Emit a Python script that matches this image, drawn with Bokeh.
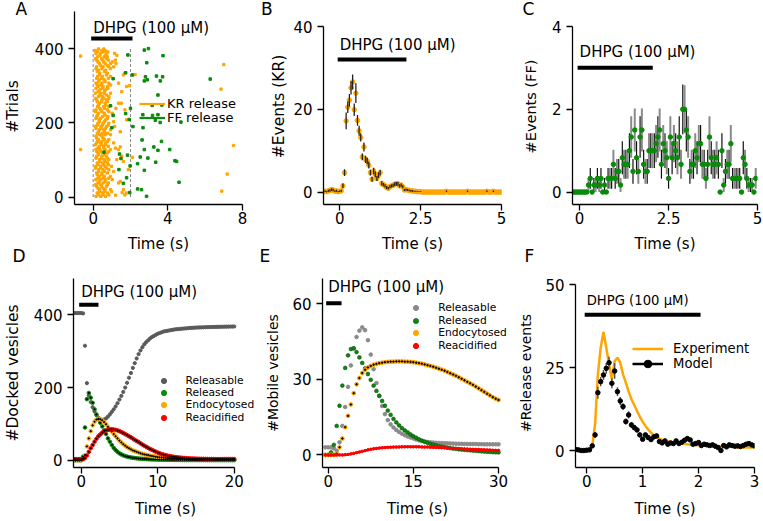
import numpy as np
from bokeh.plotting import figure
from bokeh.layouts import column, row
from bokeh.models import Range1d, FixedTicker, Label, Legend, LegendItem, Title
from bokeh.embed import file_html
from bokeh.resources import INLINE

# ============================ DATA ============================
stim_on = 0.0
stim_off = 2.0
stim_text = "DHPG (100 μM)"
n_trials = 400

# --- A: raster of release events (trial, event times in s)
kr_rows = [
    (399, [0.29, 0.57]), (395, [0.12, 0.47, 0.64]), (391, [0.22, 0.53, 0.79]),
    (387, [0.15, 0.40, 0.71, 1.15]), (382, [0.36, 0.67, 1.27]), (378, [0.24, 0.59, 0.76]),
    (373, [0.12, 0.45, 0.71]), (369, [0.19, 0.50, 0.81, 1.19]), (364, [0.26, 0.57, 1.02]),
    (360, [0.33, 0.64, 0.93, 1.22]), (355, [0.40, 0.76]), (351, [0.19, 0.53, 0.84, 1.10]),
    (346, [0.15, 0.47, 0.93]), (342, [0.29, 0.67]), (338, [0.22, 0.60]),
    (334, [0.36, 0.76, 1.70]), (329, [0.33, 0.71, 1.62]), (325, [0.24, 0.50, 0.93]),
    (320, [0.19, 0.45, 0.81]), (316, [0.33, 0.59]), (311, [0.29, 0.64]),
    (307, [0.15, 0.47, 0.84, 1.36]), (302, [0.22, 0.41, 0.93]), (298, [0.26, 0.53, 0.76, 1.79]),
    (293, [0.15, 0.50, 0.79]), (289, [0.36, 0.67]), (284, [0.26, 0.60, 1.53]),
    (280, [0.12, 0.41, 0.59, 0.93]), (275, [0.36, 0.71]), (271, [0.29, 0.50, 0.84]),
    (266, [0.12, 0.57, 0.84]), (262, [0.19, 0.47, 0.71]), (257, [0.22, 0.45, 0.76]),
    (253, [0.33, 0.64, 1.36, 1.50]), (248, [0.29, 0.67]), (244, [0.24, 0.57, 0.84]),
    (239, [0.36, 0.60, 1.22]), (235, [0.15, 0.41, 0.76, 1.70]), (230, [0.12, 0.47, 0.84]),
    (226, [0.29, 0.59, 1.02]), (221, [0.24, 0.64]), (217, [0.19, 0.50, 0.79]),
    (212, [0.15, 0.41, 0.76]), (208, [0.33, 0.67, 1.79]), (203, [0.33, 0.60, 1.10]),
    (199, [0.26, 0.53, 0.84]), (194, [0.22, 0.50, 0.81]), (190, [0.12, 0.41, 0.71, 1.15]),
    (185, [0.15, 0.45, 0.67]), (181, [0.33, 0.59, 0.93]), (176, [0.29, 0.60, 1.45]),
    (172, [0.22, 0.50, 0.76]), (168, [0.36, 0.64, 0.93]), (164, [0.15, 0.47]),
    (159, [0.19, 0.53]), (155, [0.29, 0.60, 0.84]), (150, [0.24, 0.47, 0.76]),
    (146, [0.19, 0.41, 0.67, 1.10]), (141, [0.12, 0.45, 0.67]), (137, [0.33, 0.57, 0.81]),
    (132, [0.26, 0.57, 1.19]), (128, [0.15, 0.36, 0.64, 0.93, 1.36]), (123, [0.19, 0.41, 0.84]),
    (119, [0.26, 0.50, 0.76]), (114, [0.29, 0.60]), (110, [0.19, 0.47, 0.71, 1.53]),
    (105, [0.15, 0.45, 0.76]), (101, [0.33, 0.59, 0.84, 1.27]), (96, [0.36, 0.64, 1.62]),
    (92, [0.22, 0.50, 0.76]), (87, [0.26, 0.57, 0.81]), (83, [0.15, 0.41, 0.64, 0.98]),
    (78, [0.12, 0.40, 0.71]), (74, [0.29, 0.53, 0.84, 1.88]), (69, [0.29, 0.60, 1.10]),
    (65, [0.19, 0.47, 0.76]), (60, [0.22, 0.47]), (56, [0.33, 0.60, 0.93]),
    (51, [0.26, 0.53, 0.84]), (47, [0.15, 0.40, 0.67, 1.02]), (42, [0.33, 0.64, 1.45]),
    (38, [0.26, 0.53, 0.81, 1.36]), (33, [0.12, 0.41, 0.76]), (29, [0.19, 0.45, 0.71]),
    (24, [0.26, 0.53]), (20, [0.33, 0.64, 0.93, 1.62]), (15, [0.36, 0.60, 0.98]),
    (11, [0.22, 0.50, 0.76, 1.79]), (6, [0.29, 0.53, 0.84, 1.70]), (2, [0.15, 0.41, 0.67]),
]
kr_extra_time = [-0.67, -0.67, 7.00, 6.85, 7.52, 7.18, 6.89, 1.45, 1.55, 2.10, 1.95, 2.25, 1.20]
kr_extra_trial = [380, 128, 357, 291, 139, 62, 16, 135, 12, 107, 300, 330, 5]
ff_time = [2.96, 2.74, 1.86, 2.87, 3.74, 1.07, 1.74, 2.10, 2.80, 2.90, 2.74, 3.39, 3.60, 3.72,
           3.47, 6.27, 3.16, 3.68, 2.00, 2.66, 1.74, 1.93, 2.13, 2.67, 1.07, 3.33, 3.59, 4.70,
           3.47, 3.18, 2.62, 3.66, 3.25, 3.47, 4.10, 2.74, 2.52, 2.93, 4.38, 4.47, 3.35, 2.38,
           1.84, 1.41, 1.49, 1.98, 1.38, 2.74, 1.79, 1.62, 1.96, 2.38, 2.59, 2.86, 4.60, 0.58,
           1.00, 0.93]
ff_trial = [400, 396, 383, 362, 381, 319, 335, 329, 324, 316, 313, 326, 313, 324, 275, 318, 247,
            248, 239, 222, 225, 209, 190, 187, 220, 207, 201, 202, 222, 220, 154, 150, 135, 126,
            128, 128, 108, 105, 98, 96, 94, 90, 113, 116, 104, 84, 74, 72, 52, 37, 12, 22, 20, 2,
            40, 121, 187, 246]

# --- B: KR events per 50 ms bin (from -0.5 s)
kr_bin_start, kr_bin_width = -0.5, 0.05
kr_mean = [0.1, 0.2, 0.1, 0.3, 0.4, 0.6, 0.5, 0.2, 0.3, 0.1, 0.2, 0.3,
           1.5, 4.7, 17.2, 20.5, 22.2, 25.2, 26.6, 19.9, 23.9, 17.3,
           14.8, 13.2, 8.5, 10.9, 7.9, 7.5, 6.5, 4.7, 3.1, 5.1,
           4.3, 3.3, 4.1, 4.7, 2.1, 1.8, 1.5, 1.1, 0.9, 1.3,
           1.5, 1.6, 1.9, 2.0, 2.0, 1.5, 1.7, 1.3, 0.5, 0.6,
           0.5, 0.4, 0.3, 0.3, 0.2, 0.2, 0.1, 0.1, 0.1,
           0, 0, 0, 0, 0, 0, 0, 0, 0, 0,
           0, 0, 0, 0, 0, 0.2, 0, 0, 0, 0,
           0, 0, 0, 0, 0, 0, 0, 0, 0.2, 0,
           0, 0, 0, 0, 0, 0, 0, 0, 0, 0,
           0.2, 0, 0, 0, 0.2, 0, 0, 0, 0, 0]
kr_err = [0.15, 0.2, 0.15, 0.25, 0.3, 0.35, 0.3, 0.2, 0.25, 0.15, 0.2, 0.25,
          0.6, 0.8, 2.0, 1.4, 1.5, 1.6, 1.8, 1.5, 2.4, 1.3,
          1.2, 1.0, 0.8, 1.1, 0.9, 0.8, 0.8, 0.7, 0.6, 0.8,
          0.7, 0.6, 0.7, 0.7, 0.5, 0.4, 0.4, 0.35, 0.3, 0.35,
          0.4, 0.4, 0.45, 0.45, 0.45, 0.4, 0.4, 0.35, 0.25, 0.25,
          0.25, 0.2, 0.2, 0.2, 0.15, 0.15, 0.1, 0.1, 0.1,
          0, 0, 0, 0, 0, 0, 0, 0, 0, 0,
          0, 0, 0, 0, 0, 0.2, 0, 0, 0, 0,
          0, 0, 0, 0, 0, 0, 0, 0, 0.2, 0,
          0, 0, 0, 0, 0, 0, 0, 0, 0, 0,
          0.2, 0, 0, 0, 0.2, 0, 0, 0, 0, 0]

# --- C: FF events per 50 ms bin (from -0.2 s)
ff_bin_start, ff_bin_width = -0.2, 0.05
ff_mean = [0, 0, 0, 0, 0, 0, 0, 0, 0,
           0.17, 0.33, 0, 0.17, 0.17, 0.33, 0.17, 0.33, 0, 0.17,
           0, 0.33, 0.33, 0.33, 0.67, 0.33, 0.5, 0.5, 0.17, 0.83,
           0.67, 0.67, 0.67, 1.0, 1.33, 0.5, 1.5, 0.83, 0.5, 1.33,
           1.5, 0.67, 0.5, 0.5, 1.0, 1.0, 1.0, 1.0, 1.17, 1.33,
           1.5, 0.67, 1.17, 1.0, 0.83, 0.33,
           1.33, 0.83, 1.17, 1.0, 0.83, 1.33, 0.67, 2.0, 2.0, 1.5,
           1.33, 0.5, 0.67, 0.67, 1.0, 0.83, 1.17, 1.17, 0.67, 0.67,
           0.33, 0.67, 1.33, 0.83, 0.67, 0.67, 0.83, 0.67, 0, 1.0,
           0.17, 0.5, 0.67, 0.67, 1.17, 0.33, 0.33, 0.33, 0.33, 0.33,
           0, 0.83, 0.67, 0.33, 0.17, 0.17, 0.17, 0, 0.33]
ff_err = [0, 0, 0, 0, 0, 0, 0, 0, 0,
          0.17, 0.25, 0, 0.17, 0.17, 0.25, 0.17, 0.25, 0, 0.17,
          0, 0.25, 0.25, 0.25, 0.35, 0.25, 0.3, 0.3, 0.17, 0.4,
          0.35, 0.35, 0.35, 0.42, 0.5, 0.3, 0.52, 0.4, 0.3, 0.5,
          0.52, 0.35, 0.3, 0.3, 0.42, 0.42, 0.42, 0.42, 0.45, 0.5,
          0.52, 0.35, 0.45, 0.42, 0.4, 0.25,
          0.5, 0.4, 0.45, 0.42, 0.4, 0.5, 0.35, 0.6, 0.58, 0.52,
          0.5, 0.3, 0.35, 0.35, 0.42, 0.4, 0.45, 0.45, 0.35, 0.35,
          0.25, 0.35, 0.5, 0.4, 0.35, 0.35, 0.4, 0.35, 0, 0.42,
          0.17, 0.3, 0.35, 0.35, 0.45, 0.25, 0.25, 0.25, 0.25, 0.25,
          0, 0.4, 0.35, 0.25, 0.17, 0.17, 0.17, 0, 0.25]

# --- D: docked vesicle pools, sampled every 0.25 s from -1 s
dock_start, dock_step = -1.0, 0.25
dock_releasable = [405, 405, 405, 405, 405, 404,
                   315, 212, 178, 160, 146, 134, 124, 117, 113, 111,
                   112, 115, 120, 126, 133, 140, 148, 157, 167, 177,
                   188, 200, 213, 227, 240, 254, 267, 280, 292, 302,
                   311, 319, 325, 330, 335, 339, 342, 345, 348, 350,
                   352, 354, 355, 356, 357, 358, 359, 360, 360.5, 361,
                   361.5, 362, 362.5, 363, 363.5, 364, 364.3, 364.6, 365, 365.2,
                   365.4, 365.6, 365.8, 366, 366.2, 366.4, 366.5, 366.6, 366.8, 367,
                   367, 367.2, 367.3, 367.4, 367.5, 367.6, 367.7, 367.8, 368]
dock_released = [0, 0, 0, 0, 0, 10,
                 90, 168, 185, 172, 158, 140, 126, 113, 103, 93,
                 82, 72, 60, 51, 42, 34, 28, 23, 19, 16,
                 13.5, 11.5, 10, 8.7, 7.6, 6.7, 6, 5.3, 4.7, 4.2,
                 3.8, 3.4, 3.1, 2.8, 2.5, 2.3, 2.1, 1.9, 1.7, 1.6,
                 1.5, 1.4, 1.3, 1.2, 1.1, 1.0, 0.95, 0.9, 0.85, 0.8,
                 0.75, 0.7, 0.65, 0.6, 0.6, 0.55, 0.5, 0.5, 0.45, 0.45,
                 0.4, 0.4, 0.4, 0.35, 0.35, 0.35, 0.3, 0.3, 0.3, 0.3,
                 0.3, 0.3, 0.3, 0.3, 0.3, 0.3, 0.3, 0.3, 0.3]
dock_endocytosed = [0, 0, 0, 0, 0, 3,
                    14, 38, 60, 80, 96, 106, 112, 114, 113, 110,
                    105, 99, 92, 85, 79, 72, 66, 60, 54, 49,
                    44, 40, 36, 33, 30, 27, 25, 23, 21, 19,
                    17.5, 16, 15, 14, 12.5, 11.5, 10.5, 9.5, 8.5, 8,
                    7.3, 6.8, 6.3, 5.9, 5.5, 5.2, 4.9, 4.6, 4.4, 4.2,
                    4.0, 3.8, 3.7, 3.6, 3.5, 3.4, 3.3, 3.3, 3.2, 3.2,
                    3.1, 3.1, 3.1, 3.0, 3.0, 3.0, 3.0, 3.0, 3.0, 3.0,
                    3.0, 3.0, 3.0, 3.0, 3.0, 3.0, 3.0, 3.0, 3.0]
dock_reacidified = [3, 3, 3, 3, 3, 3,
                    6, 13, 23, 33, 42, 51, 59, 66, 71, 76,
                    79, 82, 83.5, 84.5, 85, 84.5, 83.5, 82, 80, 77.5,
                    75, 72, 69, 66, 63, 59.5, 56, 53, 50, 46.5,
                    43, 40, 37, 34, 31, 28.5, 26, 23.5, 21, 19,
                    17, 15.5, 14, 12.8, 11.6, 10.6, 9.7, 8.9, 8.2, 7.6,
                    7.0, 6.5, 6.0, 5.6, 5.2, 4.9, 4.6, 4.4, 4.2, 4.0,
                    3.8, 3.7, 3.6, 3.5, 3.4, 3.3, 3.2, 3.2, 3.1, 3.1,
                    3.0, 3.0, 3.0, 3.0, 3.0, 3.0, 3.0, 3.0, 3.0]

# --- E: mobile vesicle pools, sampled every 0.5 s from -0.5 s
mob_start, mob_step = -0.5, 0.5
mob_releasable = [3.0, 3.0, 3.0, 2.6, 1.6, 5.0, 11.5, 19.0, 27.0, 35.5,
                  42.3, 46.8, 49.3, 50.6, 49.5, 45.5, 39.8, 34.0, 28.5, 23.5,
                  19.4, 16.2, 13.8, 12.1, 10.9, 9.9, 9.1, 8.4, 7.8, 7.3,
                  6.9, 6.5, 6.1, 5.8, 5.5, 5.3, 5.1, 5.0, 4.9, 4.8,
                  4.75, 4.7, 4.65, 4.6, 4.55, 4.5, 4.45, 4.4, 4.4, 4.35,
                  4.35, 4.3, 4.3, 4.3, 4.25, 4.25, 4.2, 4.2, 4.2, 4.2,
                  4.2, 4.2]
mob_released = [0, 0, 1.0, 4.0, 11.5, 19.5, 27.5, 34.5, 39.5, 42.0,
                42.3, 40.8, 38.7, 36.5, 34.3, 32.1, 29.8, 27.5, 25.4, 23.4,
                21.4, 19.5, 17.6, 15.9, 14.3, 12.9, 11.7, 10.6, 9.7, 8.9,
                8.1, 7.4, 6.8, 6.2, 5.7, 5.2, 4.8, 4.4, 4.1, 3.8,
                3.5, 3.3, 3.1, 2.9, 2.7, 2.5, 2.4, 2.2, 2.1, 2.0,
                1.9, 1.8, 1.7, 1.6, 1.5, 1.4, 1.3, 1.25, 1.2, 1.1,
                1.05, 1.0]
mob_endocytosed = [0, 0, 0, 0, 0.5, 3.0, 6.5, 11.0, 15.5, 20.0,
                   24.5, 28.0, 30.5, 32.5, 33.8, 34.7, 35.3, 35.8, 36.1, 36.4,
                   36.6, 36.8, 36.9, 37.0, 37.0, 37.1, 37.1, 37.1, 37.0, 37.0,
                   36.9, 36.8, 36.6, 36.4, 36.2, 35.9, 35.6, 35.3, 35.0, 34.6,
                   34.2, 33.8, 33.4, 32.9, 32.4, 31.9, 31.4, 30.8, 30.2, 29.6,
                   29.0, 28.4, 27.8, 27.1, 26.4, 25.7, 25.0, 24.3, 23.6, 22.9,
                   22.3, 21.8]
mob_reacidified = [0, 0, 0, 0, 0, 0, 0, 0.1, 0.2, 0.4,
                   0.6, 0.9, 1.15, 1.4, 1.7, 2.0, 2.2, 2.4, 2.55, 2.7,
                   2.8, 2.9, 3.0, 3.05, 3.1, 3.1, 3.15, 3.2, 3.2, 3.2,
                   3.2, 3.2, 3.2, 3.2, 3.15, 3.1, 3.1, 3.05, 3.0, 2.95,
                   2.9, 2.85, 2.8, 2.7, 2.65, 2.6, 2.55, 2.5, 2.4, 2.35,
                   2.3, 2.25, 2.2, 2.15, 2.1, 2.05, 2.0, 1.95, 1.9, 1.85,
                   1.8, 1.8]

# --- F: experiment vs model release events
exp_start, exp_step = 0.0, 0.05
exp_events = [0.0, 0.2, 1.5, 8.0, 23.0, 31.0, 35.7, 31.0, 26.0, 21.5,
              27.0, 28.0, 26.5, 23.0, 20.5, 17.8, 15.5, 13.8, 12.0, 10.3,
              8.8, 7.5, 6.4, 5.5, 4.7, 4.1, 3.7, 3.3, 3.0, 2.8,
              2.6, 2.5, 2.4, 2.3, 2.2, 2.1, 2.0, 1.9, 1.8, 1.75,
              1.7, 1.6, 1.6, 1.5, 1.5, 1.4, 1.4, 1.3, 1.3, 1.3,
              1.2, 1.2, 1.2, 1.1, 1.1, 1.1, 1.0, 1.0, 1.0, 1.0,
              1.0]
model_start, model_step = -0.2, 0.05
model_events = [0.4, 0.3, 0.1, 0.1, 0.2, 0.3,
                1.5, 4.8, 17.5, 20.8, 22.8, 24.8, 26.5, 20.3, 24.0, 17.8,
                15.0, 13.3, 8.8, 10.8, 7.8, 7.0, 6.3, 4.8, 3.5, 4.8,
                4.0, 3.4, 4.2, 4.5, 2.8, 2.4, 3.0, 2.0, 2.4, 2.2,
                3.0, 2.2, 2.6, 3.2, 3.7, 3.3, 2.0, 2.2, 2.5, 1.6,
                2.0, 1.8, 1.6, 1.8, 1.4, 1.0, 0.1, 1.6, 1.2, 1.8,
                1.6, 1.4, 1.5, 1.3, 1.6, 2.0, 2.2, 1.8, 1.5]
model_err = [0.3, 0.3, 0.2, 0.2, 0.2, 0.3,
             0.6, 0.9, 1.8, 1.4, 1.5, 1.6, 1.8, 1.5, 2.3, 1.3,
             1.2, 1.0, 0.9, 1.1, 0.9, 0.8, 0.8, 0.7, 0.6, 0.8,
             0.7, 0.6, 0.7, 0.7, 0.5, 0.5, 0.6, 0.5, 0.5, 0.5,
             0.6, 0.5, 0.5, 0.6, 0.6, 0.6, 0.5, 0.5, 0.5, 0.4,
             0.5, 0.4, 0.4, 0.4, 0.4, 0.3, 0.1, 0.4, 0.3, 0.4,
             0.4, 0.3, 0.4, 0.3, 0.4, 0.4, 0.5, 0.4, 0.4]

# --- ticks
A_xt, A_xl, A_yt, A_yl = [0, 4, 8], ["0", "4", "8"], [0, 200, 400], ["0", "200", "400"]
B_xt, B_xl, B_yt, B_yl = [0, 2.5, 5], ["0", "2.5", "5"], [0, 20, 40], ["0", "20", "40"]
C_xt, C_xl, C_yt, C_yl = [0, 2.5, 5], ["0", "2.5", "5"], [0, 2, 4], ["0", "2", "4"]
D_xt, D_xl, D_yt, D_yl = [0, 10, 20], ["0", "10", "20"], [0, 200, 400], ["0", "200", "400"]
E_xt, E_xl, E_yt, E_yl = [0, 15, 30], ["0", "15", "30"], [0, 30, 60], ["0", "30", "60"]
F_xt, F_xl, F_yt, F_yl = [0, 1, 2, 3], ["0", "1", "2", "3"], [0, 25, 50], ["0", "25", "50"]

# ============================ STYLE / LAYOUT ============================
FONT = "DejaVu Sans"
ORANGE = "#FFA500"
GREEN = "#0A8A0A"
RED = "#FF0000"

# pixel geometry: figure box (x0, y0, w, h), frame (l, t, r, b), axis extents (lo, hi, px of hi)
GEOM = {
    "A": dict(box=(0, 0, 258, 268), frame=(68, 8, 242, 204), xax=(-1, 8, 242), yax=(-20, 500, 11)),
    "B": dict(box=(258, 0, 257, 268), frame=(323, 8, 501, 204), xax=(-0.5, 5, 501), yax=(-3, 40, 26)),
    "C": dict(box=(515, 0, 248, 268), frame=(572, 8, 757, 204), xax=(-0.2, 5, 757), yax=(-0.3, 4, 26)),
    "D": dict(box=(0, 268, 258, 253), frame=(67, 278, 257, 467), xax=(-1, 20, 233), yax=(-20, 500, 278)),
    "E": dict(box=(258, 268, 257, 253), frame=(322, 278, 512, 467), xax=(-1, 30, 498), yax=(-5, 70, 278)),
    "F": dict(box=(515, 268, 248, 253), frame=(572, 278, 754, 467), xax=(-0.2, 3, 754), yax=(-5, 50, 284)),
}


def scales(key):
    g = GEOM[key]
    fl, ft, fr, fb = g["frame"]
    xlo, xhi, xpx = g["xax"]
    ylo, yhi, ypx = g["yax"]
    kx = (xpx - fl) / (xhi - xlo)
    ky = (fb - ypx) / (yhi - ylo)
    return fl, ft, fr, fb, xlo, ylo, kx, ky


def pd(key, px, py):
    fl, ft, fr, fb, xlo, ylo, kx, ky = scales(key)
    return xlo + (px - fl) / kx, ylo + (fb - py) / ky


def make_fig(key, xt, xl, yt, yl, xlab, ylab, ylab_size, ylab_standoff, xlab_standoff):
    g = GEOM[key]
    bx, by, bw, bh = g["box"]
    fl, ft, fr, fb, xlo, ylo, kx, ky = scales(key)
    xend = xlo + (fr - fl) / kx
    yend = ylo + (fb - ft) / ky
    p = figure(width=bw, height=bh,
               x_range=Range1d(xlo, xend + 1e-6 * (xend - xlo)),
               y_range=Range1d(ylo, yend + 1e-6 * (yend - ylo)),
               output_backend="svg", toolbar_location=None,
               min_border_left=fl - bx, min_border_right=bx + bw - fr,
               min_border_top=ft - by, min_border_bottom=by + bh - fb)
    if "frame_align" in p.properties():
        p.frame_align = False
    p.outline_line_color = None
    p.xgrid.visible = False
    p.ygrid.visible = False
    p.background_fill_color = "white"
    p.border_fill_color = "white"
    for ax, ticks, labels, ext in ((p.xaxis[0], xt, xl, g["xax"]), (p.yaxis[0], yt, yl, g["yax"])):
        ax.bounds = (ext[0], ext[1])
        ax.ticker = FixedTicker(ticks=ticks)
        ax.major_label_overrides = {tk: lb for tk, lb in zip(ticks, labels)}
        ax.major_tick_in = 0
        ax.major_tick_out = 6
        ax.minor_tick_in = 0
        ax.minor_tick_out = 0
        ax.axis_line_width = 1.3
        ax.major_tick_line_width = 1.3
        ax.axis_line_color = "black"
        ax.major_tick_line_color = "black"
        ax.major_label_text_font = FONT
        ax.major_label_text_font_size = "15px"
        ax.major_label_text_color = "black"
        ax.axis_label_text_font = FONT
        ax.axis_label_text_font_style = "normal"
        ax.axis_label_text_color = "black"
    p.xaxis[0].axis_label = xlab
    p.xaxis[0].axis_label_text_font_size = "15px"
    p.xaxis[0].major_label_standoff = 1
    p.xaxis[0].axis_label_standoff = xlab_standoff
    p.yaxis[0].axis_label = ylab
    p.yaxis[0].axis_label_text_font_size = f"{ylab_size}px"
    p.yaxis[0].major_label_standoff = 5
    p.yaxis[0].axis_label_standoff = ylab_standoff
    return p


def stim(p, key, bar_py, text_py, size):
    _, yb = pd(key, 0, bar_py)
    _, yt = pd(key, 0, text_py)
    p.segment(x0=[stim_on], y0=[yb], x1=[stim_off], y1=[yb], line_color="black",
              line_width=4, line_cap="square")
    p.add_layout(Label(x=stim_on, y=yt, text=stim_text, text_font=FONT,
                       text_font_size=f"{size}px", text_baseline="middle",
                       text_align="left", text_color="black"))


def letter(p, key, text, left_px, side):
    fl = GEOM[key]["frame"][0]
    t = Title(text=text, align="left", offset=left_px - fl, standoff=-22,
              vertical_align="middle", text_font=FONT, text_font_size="17px",
              text_font_style="normal", text_color="black")
    p.add_layout(t, side)


def legend(p, key, entries, glyph_left, first_cy, pitch, gw, gh, standoff, fsize):
    fl, ft, fr, fb = GEOM[key]["frame"]
    for i, (lab, rends) in enumerate(entries):
        cy = first_cy + i * pitch
        leg = Legend(items=[LegendItem(label=lab, renderers=rends)],
                     location=(glyph_left - fl, fb - (cy + gh / 2.0)),
                     glyph_width=gw, glyph_height=gh, label_height=gh,
                     label_standoff=standoff, padding=0, margin=0, spacing=0,
                     border_line_alpha=0, background_fill_alpha=0,
                     label_text_font=FONT, label_text_font_size=f"{fsize}px",
                     label_text_color="black")
        p.add_layout(leg)


def errbars(p, t, v, e, colors, widths):
    for k in range(len(colors)):
        xs = [tt for i, tt in enumerate(t) if i % len(colors) == k]
        lo = [vv - ee for i, (vv, ee) in enumerate(zip(v, e)) if i % len(colors) == k]
        hi = [vv + ee for i, (vv, ee) in enumerate(zip(v, e)) if i % len(colors) == k]
        n = min(len(xs), len(lo))
        p.segment(x0=xs[:n], y0=lo[:n], x1=xs[:n], y1=hi[:n],
                  line_color=colors[k], line_width=widths[k])


# ============================ PANEL A ============================
pA = make_fig("A", A_xt, A_xl, A_yt, A_yl, "Time (s)", "#Trials", 15.5, 10, 8)
pA.segment(x0=[stim_on, stim_off], y0=[0, 0], x1=[stim_on, stim_off], y1=[n_trials, n_trials],
           line_color="#888888", line_dash="3 2", line_width=1)
kr_t = [t for tr, ts in kr_rows for t in ts] + kr_extra_time
kr_tr = [tr for tr, ts in kr_rows for t in ts] + kr_extra_trial
pA.scatter(kr_t, kr_tr, marker="square", size=2.3, color=ORANGE)
pA.scatter(ff_time, ff_trial, marker="square", size=2.5, color=GREEN)
stim(pA, "A", 38, 27, 15)
rKR = pA.line(x=[np.nan], y=[np.nan], line_color=ORANGE, line_width=2.2)
rFF = pA.line(x=[np.nan], y=[np.nan], line_color=GREEN, line_width=2.2)
legend(pA, "A", [("KR release", [rKR]), ("FF release", [rFF])], 133, 103.5, 14, 26, 19, 2, 13)
letter(pA, "A", "A", 9, "above")
letter(pA, "A", "D", 6, "below")

# ============================ PANEL B ============================
pB = make_fig("B", B_xt, B_xl, B_yt, B_yl, "Time (s)", "#Events (KR)", 15.5, 2, 8)
tB = [round(kr_bin_start + kr_bin_width * i, 3) for i in range(len(kr_mean))]
pB.scatter(tB, kr_mean, size=4.5, color=ORANGE)
errbars(pB, tB, kr_mean, kr_err, ["#222222"], [1.3])
stim(pB, "B", 59, 44.3, 15)
letter(pB, "B", "B", 260.5, "above")
letter(pB, "B", "E", 259, "below")

# ============================ PANEL C ============================
pC = make_fig("C", C_xt, C_xl, C_yt, C_yl, "Time (s)", "#Events (FF)", 14.5, 10, 8)
tC = [round(ff_bin_start + ff_bin_width * i, 3) for i in range(len(ff_mean))]
errbars(pC, tC, ff_mean, ff_err, ["#111111", "#8a8a8a"], [1.2, 2.0])
pC.scatter(tC, ff_mean, size=4.5, color=GREEN)
stim(pC, "C", 67.3, 51, 15)
letter(pC, "C", "C", 522, "above")
letter(pC, "C", "F", 524, "below")

# ============================ PANEL D ============================
pD = make_fig("D", D_xt, D_xl, D_yt, D_yl, "Time (s)", "#Docked vesicles", 15.5, 9, 10)
tD = [round(dock_start + dock_step * i, 3) for i in range(len(dock_releasable))]
rDg = pD.scatter(tD, dock_releasable, size=3.2, color="#5a5a5a")
rDr = pD.scatter(tD, dock_released, size=3.6, color=GREEN)
rDe = pD.scatter(tD, dock_endocytosed, size=3.6, color=ORANGE)
rDa = pD.scatter(tD, dock_reacidified, size=3.6, color=RED)
for vals in (dock_released, dock_endocytosed, dock_reacidified):
    pD.scatter(tD, vals, size=1.3, color="black")
stim(pD, "D", 304.3, 291.7, 15)
legend(pD, "D", [("Releasable", [rDg]), ("Released", [rDr]),
                 ("Endocytosed", [rDe]), ("Reacidified", [rDa])],
       150.5, 380, 12.4, 13, 13, 16, 10.7)

# ============================ PANEL E ============================
pE = make_fig("E", E_xt, E_xl, E_yt, E_yl, "Time (s)", "#Mobile vesicles", 14, 8, 10)
tE = [round(mob_start + mob_step * i, 3) for i in range(len(mob_releasable))]
rEg = pE.scatter(tE, mob_releasable, size=3.6, color="#8a8a8a")
rEr = pE.scatter(tE, mob_released, size=3.8, fill_color=GREEN, line_color="#0b4d0b", line_width=0.6)
rEe = pE.scatter(tE, mob_endocytosed, size=3.8, color=ORANGE)
pE.scatter(tE, mob_endocytosed, size=1.5, color="black")
rEa = pE.scatter(tE, mob_reacidified, size=2.5, color=RED)
pE.line(tE, mob_reacidified, line_color=RED, line_width=2.5)
stim(pE, "E", 302.7, 286, 15)
legend(pE, "E", [("Releasable", [rEg]), ("Released", [rEr]),
                 ("Endocytosed", [rEe]), ("Reacidified", [rEa])],
       409.2, 307.5, 12.5, 13, 13, 16, 10.7)

# ============================ PANEL F ============================
pF = make_fig("F", F_xt, F_xl, F_yt, F_yl, "Time (s)", "#Release events", 14, 8, 10)
tFe = [round(exp_start + exp_step * i, 3) for i in range(len(exp_events))]
tFm = [round(model_start + model_step * i, 3) for i in range(len(model_events))]
rFe = pF.line(tFe, exp_events, line_color=ORANGE, line_width=2.5)
errbars(pF, tFm, model_events, model_err, ["#555555"], [1.5])
rFm = pF.scatter(tFm, model_events, size=4.5, color="black")
rFl = pF.line(x=[np.nan], y=[np.nan], line_color="black", line_width=2.5)
stim(pF, "F", 314.3, 300, 13.2)
legend(pF, "F", [("Experiment", [rFe]), ("Model", [rFl, rFm])], 629, 348.5, 14.5, 31, 19, 10, 13.2)

layout = column(row(pA, pB, pC), row(pD, pE, pF))
with open("out.html", "w", encoding="utf-8") as f:
    f.write(file_html(layout, INLINE))
